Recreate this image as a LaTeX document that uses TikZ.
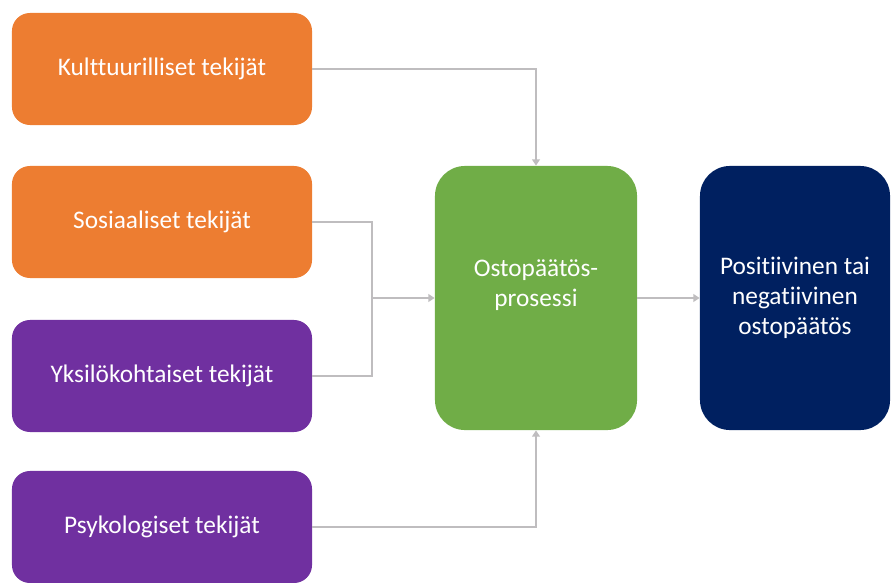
\documentclass[tikz,border=0pt]{standalone}
\usepackage{fontspec}
\setmainfont{Carlito}[Ligatures=CommonOff]
\usepackage{xcolor}
\usetikzlibrary{arrows.meta,positioning}
\definecolor{factorange}{HTML}{ED7D31}
\definecolor{factpurple}{HTML}{7030A0}
\definecolor{procgreen}{HTML}{70AD47}
\definecolor{resnavy}{HTML}{002060}
\definecolor{conngray}{HTML}{BFBDBF}

\begin{document}
\begin{tikzpicture}[x=0.025cm,y=-0.025cm,font=\fontsize{18}{21.5}\selectfont,
    every node/.style={text=white,align=center,inner sep=0pt},
    factor/.style={rounded corners=0.45cm,minimum width=7.5cm,minimum height=2.8cm},
    bigbox/.style={rounded corners=0.75cm,minimum height=6.6cm},
    conn/.style={draw=conngray,line width=1.3pt},
    arr/.style={conn,-{Triangle[width=5.5pt,length=4.5pt]}}]
  \useasboundingbox (0,0) rectangle (891,583);
  \node[factor,fill=factorange] (k) at (162,69) {Kulttuurilliset tekijät};
  \node[factor,fill=factorange] (s) at (162,222) {Sosiaaliset tekijät};
  \node[factor,fill=factpurple] (y) at (162,376) {Yksilökohtaiset tekijät};
  \node[factor,fill=factpurple] (p) at (162,527) {Psykologiset tekijät};
  \node[bigbox,fill=procgreen,minimum width=5.05cm] (o) at (536,298)
    {Ostopäätös-\\prosessi\\\mbox{}};
  \node[bigbox,fill=resnavy,minimum width=4.75cm] (t) at (795,298)
    {Positiivinen tai\\negatiivinen\\ostopäätös};
  \coordinate (j) at (372,298);
  \draw[arr] (k.east) -| (o.north);
  \draw[conn] (s.east) -| (j);
  \draw[conn] (y.east) -| (j);
  \draw[arr] (j) -- (o.west);
  \draw[arr] (p.east) -| (o.south);
  \draw[arr] (o.east) -- (t.west);
\end{tikzpicture}
\end{document}
